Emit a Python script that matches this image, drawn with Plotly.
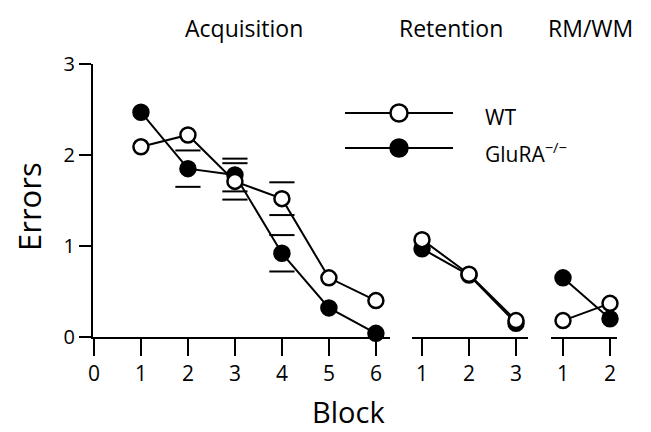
import plotly.graph_objects as go

# ---- data ----
acq_blocks = [1, 2, 3, 4, 5, 6]
wt_acq = [2.09, 2.22, 1.71, 1.52, 0.65, 0.40]
ko_acq = [2.47, 1.85, 1.78, 0.92, 0.32, 0.04]
wt_acq_err = [None, None, 0.20, 0.18, None, None]
ko_acq_err = [None, 0.20, 0.18, 0.20, None, None]

ret_blocks = [1, 2, 3]
wt_ret = [1.07, 0.69, 0.18]
ko_ret = [0.97, 0.68, 0.15]

rm_blocks = [1, 2]
wt_rm = [0.18, 0.37]
ko_rm = [0.65, 0.20]

acq_ticks = [0, 1, 2, 3, 4, 5, 6]
ret_ticks = [1, 2, 3]
rm_ticks = [1, 2]
y_ticks = [0, 1, 2, 3]

FONT = "Open Sans"
W, H = 651, 432


def px_x(p):
    return p / W


def px_y(p):
    return 1 - p / H


fig = go.Figure()


def series(x, y, xa, filled):
    fig.add_trace(go.Scatter(
        x=x, y=y, xaxis=xa, yaxis="y", mode="lines+markers",
        line=dict(color="black", width=2),
        marker=dict(size=15, symbol="circle",
                    color="black" if filled else "white",
                    line=dict(color="black", width=2.5)),
        cliponaxis=False, showlegend=False, hoverinfo="skip"))


def caps(x, y, err, xa):
    cx, cy = [], []
    for xi, yi, ei in zip(x, y, err):
        if ei is None:
            continue
        cx += [xi, xi]
        cy += [yi + ei, yi - ei]
    fig.add_trace(go.Scatter(
        x=cx, y=cy, xaxis=xa, yaxis="y", mode="markers",
        marker=dict(symbol="line-ew", size=18,
                    line=dict(color="black", width=2)),
        cliponaxis=False, showlegend=False, hoverinfo="skip"))


caps(acq_blocks, ko_acq, ko_acq_err, "x")
caps(acq_blocks, wt_acq, wt_acq_err, "x")
series(acq_blocks, ko_acq, "x", True)
series(acq_blocks, wt_acq, "x", False)
series(ret_blocks, ko_ret, "x2", True)
series(ret_blocks, wt_ret, "x2", False)
series(rm_blocks, wt_rm, "x3", False)
series(rm_blocks, ko_rm, "x3", True)

axis_common = dict(showline=True, linecolor="black", linewidth=2,
                   ticks="outside", ticklen=17, tickwidth=2, tickcolor="black",
                   showgrid=False, zeroline=False, automargin=False,
                   tickfont=dict(family=FONT, size=21, color="black"),
                   fixedrange=True)

ydom = [px_y(337), px_y(64)]

fig.update_layout(
    width=W, height=H,
    margin=dict(l=0, r=0, t=0, b=0, autoexpand=False),
    paper_bgcolor="white", plot_bgcolor="white",
    font=dict(family=FONT, color="black"),
    xaxis=dict(domain=[px_x(93), px_x(390)], range=[-0.02, 6.3],
               tickvals=acq_ticks, anchor="y", **axis_common),
    xaxis2=dict(domain=[px_x(412), px_x(528)], range=[0.787, 3.255],
                tickvals=ret_ticks, anchor="y", **axis_common),
    xaxis3=dict(domain=[px_x(551), px_x(617)], range=[0.745, 2.149],
                tickvals=rm_ticks, anchor="y", **axis_common),
    yaxis=dict(domain=ydom, range=[0, 3], tickvals=y_ticks, anchor="x",
               showline=True, linecolor="black", linewidth=2,
               ticks="outside", ticklen=12, tickwidth=2, tickcolor="black",
               showgrid=False, zeroline=False, fixedrange=True, automargin=False,
               tickfont=dict(family=FONT, size=20, color="black")),
)

# section titles and axis titles
ann = [
    dict(text="Acquisition", x=px_x(244), y=px_y(28), size=23),
    dict(text="Retention", x=px_x(451), y=px_y(28), size=23),
    dict(text="RM/WM", x=px_x(590), y=px_y(28), size=23),
    dict(text="Block", x=px_x(348), y=px_y(411), size=29),
]
for a in ann:
    fig.add_annotation(text=a["text"], x=a["x"], y=a["y"], xref="paper", yref="paper",
                       showarrow=False, xanchor="center", yanchor="middle",
                       font=dict(family=FONT, size=a["size"], color="black"))
fig.add_annotation(text="Errors", x=px_x(29), y=px_y(207), xref="paper", yref="paper",
                   showarrow=False, textangle=-90, xanchor="center", yanchor="middle",
                   font=dict(family=FONT, size=31, color="black"))

# legend drawn manually
leg_rows = [("WT", 113, "white"), ("GluRA<sup>\u2212/\u2212</sup>", 148, "black")]
for label, yy, fill in leg_rows:
    fig.add_shape(type="line", xref="paper", yref="paper",
                  x0=px_x(345), x1=px_x(453), y0=px_y(yy), y1=px_y(yy),
                  line=dict(color="black", width=2))
    fig.add_shape(type="circle", xref="paper", yref="paper",
                  xsizemode="pixel", ysizemode="pixel",
                  xanchor=px_x(399), yanchor=px_y(yy), x0=-8.5, x1=8.5, y0=-8.5, y1=8.5,
                  fillcolor=fill, line=dict(color="black", width=2.5))
    fig.add_annotation(text=label, x=px_x(483), y=px_y(yy + 4), xref="paper", yref="paper",
                       showarrow=False, xanchor="left", yanchor="middle",
                       font=dict(family=FONT, size=21, color="black"))

fig.write_html("out.html", config={"displayModeBar": False},
               post_script="document.body.style.margin='0';document.body.style.overflow='hidden';")
